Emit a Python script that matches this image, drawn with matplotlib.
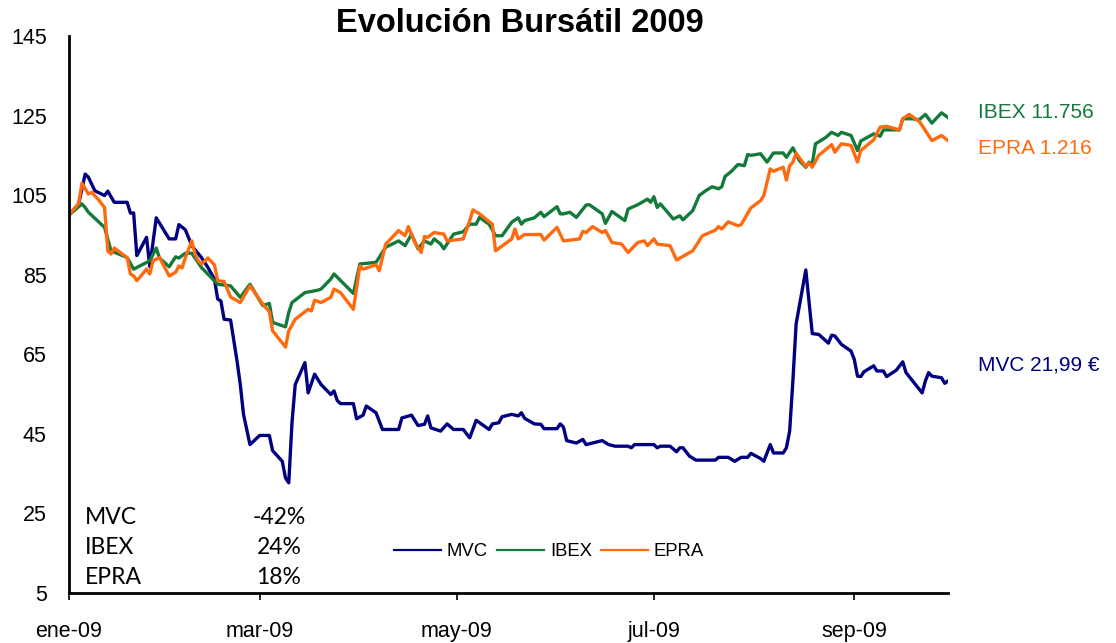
import numpy as np
import pandas as pd
import matplotlib
matplotlib.use("Agg")
import matplotlib.pyplot as plt

# dias desde el 1-ene-2009 y valores (base 100)
dias_mvc = [0, 3, 5, 6, 8, 11, 12, 14, 18, 19, 20, 21, 24, 25, 27, 31, 33, 34, 36, 38,
            41, 43, 45, 46, 47, 48, 50, 52, 53, 54, 56, 59, 62, 63, 66, 67, 68, 69, 70, 73,
            74, 76, 78, 81, 82, 83, 84, 88, 89, 91, 92, 95, 97, 102, 103, 106, 108, 110, 111, 112,
            115, 117, 119, 122, 124, 126, 130, 131, 133, 134, 137, 139, 140, 141, 144, 146, 147, 151, 152, 153,
            154, 157, 159, 160, 165, 167, 169, 173, 174, 175, 181, 182, 183, 186, 188, 189, 190, 192, 194, 200,
            201, 204, 206, 208, 210, 211, 214, 215, 217, 218, 221, 222, 223, 224, 225, 228, 230, 232, 235, 236,
            237, 239, 242, 243, 244, 245, 246, 249, 250, 252, 253, 256, 258, 259, 264, 265, 266, 267, 270, 271, 272]
mvc = [100, 102.8, 110.3, 109.5, 106.1, 104.9, 106.0, 103.2, 103.2, 100.5, 100.5, 89.8, 94.4, 87.0, 99.3, 94.0, 94.0, 97.6, 96.3, 92.3,
       89.3, 86.8, 83.9, 78.9, 78.4, 73.8, 73.6, 63.3, 57.4, 49.9, 42.3, 44.6, 44.6, 40.8, 38.1, 33.9, 32.7, 47.8, 57.4, 62.9,
       55.3, 60.0, 57.4, 54.9, 55.8, 53.4, 52.6, 52.6, 48.8, 49.7, 52.0, 50.3, 46.1, 46.1, 49.0, 49.7, 47.1, 47.4, 49.5, 46.5,
       45.7, 47.5, 46.1, 46.1, 44.0, 48.4, 46.1, 47.5, 47.8, 49.3, 49.9, 49.5, 50.3, 48.9, 47.5, 47.4, 46.3, 46.3, 47.5, 46.7,
       43.3, 42.7, 43.6, 42.3, 43.3, 42.3, 41.9, 41.9, 41.5, 42.3, 42.3, 41.5, 41.9, 41.9, 40.5, 41.5, 41.5, 39.4, 38.4, 38.4,
       39.1, 39.1, 38.1, 39.1, 39.1, 40.1, 38.8, 38.1, 42.3, 40.2, 40.2, 41.5, 45.7, 58.3, 72.6, 86.2, 70.2, 70.0, 67.8, 69.8,
       69.6, 67.5, 65.8, 63.7, 59.5, 59.4, 60.6, 62.1, 60.8, 60.8, 59.4, 61.0, 63.1, 60.4, 55.3, 58.3, 60.4, 59.5, 59.1, 57.7, 58.3]

dias_ibex = [0, 4, 5, 6, 11, 13, 18, 20, 25, 27, 28, 31, 33, 34, 36, 38, 41, 46, 50, 53,
             56, 60, 62, 63, 67, 68, 69, 73, 77, 78, 81, 82, 88, 90, 95, 98, 102, 104, 106, 108,
             110, 112, 113, 115, 116, 119, 122, 124, 126, 127, 130, 132, 134, 137, 139, 140, 141, 144, 146, 147,
             151, 152, 153, 155, 157, 160, 161, 165, 166, 168, 172, 173, 176, 179, 180, 181, 182, 183, 185, 187,
             189, 190, 193, 195, 197, 199, 201, 202, 203, 205, 207, 209, 210, 211, 214, 216, 218, 221, 222, 224,
             226, 228, 229, 230, 231, 234, 236, 238, 239, 242, 244, 245, 249, 251, 252, 254, 257, 258, 261, 263,
             265, 267, 270, 272]
ibex = [100, 102.8, 101.9, 100.7, 96.9, 91.0, 89.3, 86.4, 88.5, 91.7, 89.2, 87.0, 89.5, 89.2, 90.4, 90.4, 86.8, 82.6, 82.2, 79.3,
        82.6, 77.2, 77.8, 73.0, 71.9, 75.5, 78.0, 80.5, 81.1, 81.4, 83.9, 85.2, 80.3, 87.7, 88.1, 91.9, 93.5, 92.3, 95.2, 91.5,
        93.5, 92.7, 94.0, 92.7, 91.5, 95.2, 95.8, 97.7, 97.7, 99.4, 97.7, 94.8, 94.8, 98.2, 99.3, 97.7, 98.6, 99.3, 100.7, 99.6,
        102.1, 100.3, 100.3, 100.7, 99.4, 102.5, 102.6, 100.3, 97.9, 100.9, 98.6, 101.5, 102.6, 104.0, 103.2, 104.6, 101.9, 102.8, 100.9, 99.0,
        99.8, 98.8, 101.1, 104.9, 106.1, 107.1, 106.6, 107.1, 109.7, 111.0, 112.7, 112.4, 115.2, 115.0, 115.4, 113.3, 115.6, 115.6, 114.5, 116.9,
        113.7, 112.0, 113.3, 112.9, 117.9, 119.4, 120.8, 120.0, 120.8, 120.0, 116.2, 118.6, 120.4, 119.8, 121.4, 121.4, 121.4, 124.2, 124.2, 123.9,
        125.3, 123.1, 125.7, 124.5]

dias_epra = [0, 3, 4, 6, 7, 9, 11, 12, 13, 14, 18, 19, 20, 21, 24, 25, 26, 28, 31, 33,
             34, 35, 36, 38, 39, 40, 41, 43, 45, 46, 48, 50, 53, 56, 60, 62, 63, 67, 68, 70,
             74, 75, 76, 78, 81, 82, 84, 88, 90, 91, 95, 96, 98, 102, 104, 105, 107, 109, 110, 111,
             113, 116, 117, 122, 124, 125, 127, 131, 132, 137, 138, 139, 141, 146, 147, 151, 153, 158, 159, 160,
             162, 165, 166, 168, 171, 173, 176, 178, 179, 181, 182, 186, 188, 193, 196, 200, 201, 202, 204, 207,
             208, 211, 214, 215, 217, 218, 221, 222, 223, 224, 225, 228, 229, 230, 232, 236, 237, 239, 242, 244,
             245, 249, 251, 253, 257, 258, 260, 263, 264, 267, 270, 272]
epra = [100, 102.9, 108.0, 105.3, 105.7, 104.0, 101.9, 91.0, 90.2, 91.7, 89.3, 85.2, 84.7, 83.5, 86.4, 85.2, 88.5, 89.3, 84.7, 85.6,
        87.2, 86.7, 89.3, 93.5, 90.2, 88.5, 87.7, 89.2, 87.5, 83.5, 83.3, 79.4, 78.0, 82.2, 77.6, 75.7, 70.9, 66.8, 70.9, 73.8,
        76.3, 75.9, 78.6, 78.0, 79.3, 81.4, 80.5, 76.3, 87.2, 86.4, 87.5, 86.0, 92.7, 96.1, 94.8, 97.1, 93.1, 90.6, 94.6, 94.4,
        95.6, 95.2, 93.5, 94.0, 98.6, 101.3, 100.3, 97.7, 91.0, 94.0, 96.5, 94.0, 95.1, 95.1, 93.7, 96.9, 93.5, 94.0, 95.9, 95.6,
        97.1, 95.6, 96.1, 93.1, 92.7, 90.6, 93.1, 93.5, 92.3, 94.0, 92.7, 92.3, 88.7, 91.0, 94.8, 96.2, 97.1, 96.5, 98.3, 97.3,
        97.6, 101.8, 103.6, 104.9, 111.6, 111.0, 112.0, 108.8, 112.4, 113.3, 115.5, 112.2, 113.1, 112.0, 115.0, 117.7, 115.8, 117.9, 117.5, 113.3,
        116.2, 118.9, 122.1, 122.3, 121.4, 124.2, 125.3, 123.6, 122.5, 118.7, 120.0, 118.7]

meses = ["ene-09", "mar-09", "may-09", "jul-09", "sep-09"]
fechas_meses = ["2009-01-01", "2009-03-01", "2009-05-01", "2009-07-01", "2009-09-01"]

nombres = ["MVC", "IBEX", "EPRA"]
rentab = ["-42%", "24%", "18%"]
etiquetas = ["IBEX 11.756", "EPRA 1.216", "MVC 21,99 €"]

inicio = pd.Timestamp("2009-01-01")
def fechas(d):
    return inicio + pd.to_timedelta(d, unit="D")

c_mvc = "#000080"
c_ibex = "#147A3C"
c_epra = "#FF6A0E"

plt.rcParams['font.family'] = ['Liberation Sans', 'DejaVu Sans']

fig = plt.figure(figsize=(11.16, 6.43), dpi=100)
ax = fig.add_axes([69/1116, 1 - 593/643, (948 - 69)/1116, (593 - 36)/643])

ax.plot(fechas(dias_mvc), mvc, color=c_mvc, lw=2.4, label="MVC", solid_joinstyle="round")
ax.plot(fechas(dias_ibex), ibex, color=c_ibex, lw=2.4, label="IBEX", solid_joinstyle="round")
ax.plot(fechas(dias_epra), epra, color=c_epra, lw=2.4, label="EPRA", solid_joinstyle="round")

ax.set_xlim(inicio, fechas(272))
ax.set_ylim(5, 145)
ax.set_yticks(np.arange(5, 146, 20))
ax.set_xticks(pd.to_datetime(fechas_meses))
ax.set_xticklabels(meses)
ax.tick_params(axis="y", length=0, pad=16, labelsize=15.5)
ax.tick_params(axis="x", length=5, width=1.2, direction="out", pad=15, labelsize=15.5)

for s in ["top", "right"]:
    ax.spines[s].set_visible(False)
for s in ["left", "bottom"]:
    ax.spines[s].set_linewidth(2)

fig.text(520/1116, 1 - 23/643, "Evolución Bursátil 2009", ha="center", va="center",
         fontsize=23.5, fontweight="bold")

# etiquetas a la derecha
ax.annotate(etiquetas[0], xy=(978/1116, 1 - 112/643), xycoords="figure fraction",
            color=c_ibex, fontsize=15, va="center")
ax.annotate(etiquetas[1], xy=(978/1116, 1 - 149/643), xycoords="figure fraction",
            color=c_epra, fontsize=15, va="center")
ax.annotate(etiquetas[2], xy=(978/1116, 1 - 365/643), xycoords="figure fraction",
            color=c_mvc, fontsize=15, va="center")

# tabla de rentabilidades
for i in range(3):
    y = 1 - (518 + 30*i)/643
    fig.text(85/1116, y, nombres[i], fontsize=16.5, va="center", family=["Lato", "DejaVu Sans"])
    fig.text(279/1116, y, rentab[i], fontsize=16.5, va="center", ha="center", family=["Lato", "DejaVu Sans"])

leg = ax.legend(loc="center", bbox_to_anchor=(549/1116, 1 - 552/643), bbox_transform=fig.transFigure,
                ncol=3, frameon=False, fontsize=13.3, handlelength=2.55, handletextpad=0.3, columnspacing=0.5)
for l in leg.get_lines():
    l.set_linewidth(1.6)

fig.savefig("out.png", dpi=100)
